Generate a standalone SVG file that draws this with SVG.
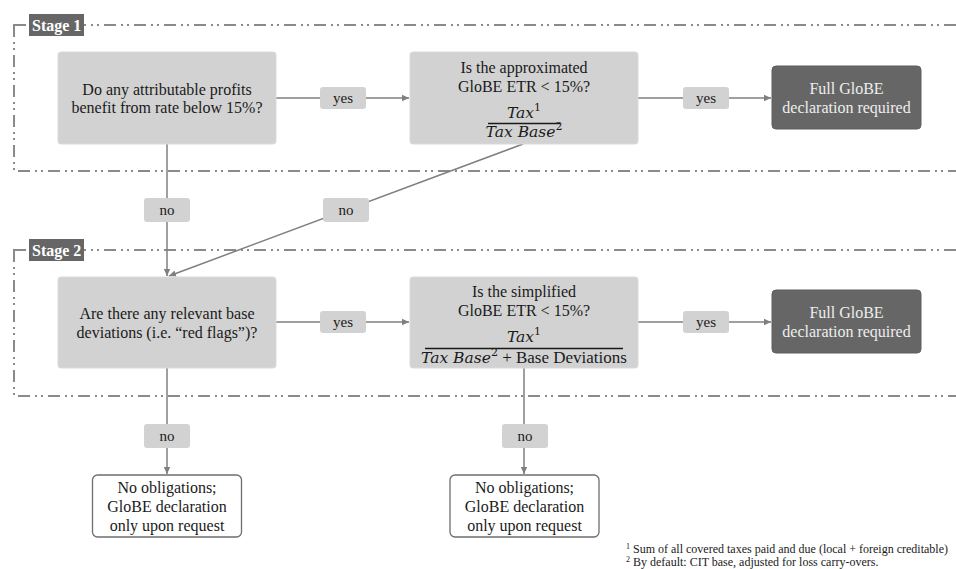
<svg xmlns="http://www.w3.org/2000/svg" width="956" height="569" viewBox="0 0 956 569">
<defs>
<style>
.stage{fill:none;stroke:#8a8a8a;stroke-width:2;stroke-dasharray:12 5 2 4 2 5}
.stlab{fill:#666}
.sttxt{font-family:"Liberation Serif",serif;font-weight:bold;font-size:16px;fill:#fff}
.q{fill:#d2d2d2;stroke:#dadada;stroke-width:1}
.dark{fill:#666;stroke:#5e5e5e;stroke-width:1}
.end{fill:#fff;stroke:#6e6e6e;stroke-width:1.3}
.t{font-family:"Liberation Serif",serif;font-size:16px;fill:#1a1a1a;text-anchor:middle}
.tw{font-family:"Liberation Serif",serif;font-size:16px;fill:#eeeeee;text-anchor:middle}
.m{font-family:"DejaVu Serif","Liberation Serif",serif;font-style:italic;font-size:15.5px;fill:#1a1a1a;text-anchor:middle}
.up{font-family:"Liberation Serif",serif;font-style:normal;font-size:17px}
.lab{fill:#d2d2d2}
.lt{font-family:"Liberation Serif",serif;font-size:15px;fill:#1a1a1a;text-anchor:middle}
.c{fill:none;stroke:#7f7f7f;stroke-width:1.5}
.fn{font-family:"Liberation Serif",serif;font-size:12px;fill:#1a1a1a}
</style>
<marker id="ah" markerWidth="8" markerHeight="8" refX="7" refY="4" orient="auto" markerUnits="userSpaceOnUse">
<path d="M0,0.8 L7,4 L0,7.2 Z" fill="#7f7f7f"/>
</marker>
</defs>
<rect width="956" height="569" fill="#fff"/>

<g id="stage1">
<rect class="stage" x="14" y="25" width="970" height="146"/>
<rect class="stlab" x="29" y="14" width="55" height="22"/>
<text class="sttxt" x="32" y="31">Stage 1</text>
</g>
<g id="stage2">
<rect class="stage" x="14" y="250" width="970" height="146"/>
<rect class="stlab" x="29" y="239" width="55" height="22"/>
<text class="sttxt" x="32" y="256">Stage 2</text>
</g>

<g id="connectors">
<path class="c" d="M276,98 H320"/>
<path class="c" d="M366,98 H409" marker-end="url(#ah)"/>
<path class="c" d="M638,98 H683"/>
<path class="c" d="M729,98 H771" marker-end="url(#ah)"/>
<path class="c" d="M276,322 H320"/>
<path class="c" d="M366,322 H409" marker-end="url(#ah)"/>
<path class="c" d="M638,322 H683"/>
<path class="c" d="M729,322 H771" marker-end="url(#ah)"/>
<path class="c" d="M167,144 V276" marker-end="url(#ah)"/>
<path class="c" d="M523,144 L169,276" marker-end="url(#ah)"/>
<path class="c" d="M167,368 V474" marker-end="url(#ah)"/>
<path class="c" d="M524,368 V474" marker-end="url(#ah)"/>
<g id="labels">
<rect class="lab" x="320" y="87" width="46" height="22" rx="3"/>
<text class="lt" x="343" y="103">yes</text>
<rect class="lab" x="683" y="87" width="46" height="22" rx="3"/>
<text class="lt" x="706" y="103">yes</text>
<rect class="lab" x="320" y="311" width="46" height="22" rx="3"/>
<text class="lt" x="343" y="327">yes</text>
<rect class="lab" x="683" y="311" width="46" height="22" rx="3"/>
<text class="lt" x="706" y="327">yes</text>
<rect class="lab" x="144" y="198" width="46" height="24" rx="3"/>
<text class="lt" x="167" y="215">no</text>
<rect class="lab" x="323" y="198" width="46" height="24" rx="3"/>
<text class="lt" x="346" y="215">no</text>
<rect class="lab" x="144" y="424" width="46" height="24" rx="3"/>
<text class="lt" x="167" y="441">no</text>
<rect class="lab" x="502" y="424" width="46" height="24" rx="3"/>
<text class="lt" x="525" y="441">no</text>
</g>
</g>

<g id="q1">
<rect class="q" x="58" y="52" width="218" height="92" rx="3"/>
<text class="t" x="167" y="94.5">Do any attributable  profits</text>
<text class="t" x="167" y="113">benefit from rate below 15%?</text>
</g>

<g id="q2">
<rect class="q" x="410" y="52" width="228" height="92" rx="3"/>
<text class="t" x="524" y="73">Is the approximated</text>
<text class="t" x="524" y="92">GloBE ETR &lt; 15%?</text>
<text class="m" x="524" y="118">Tax<tspan font-style="normal" font-size="11" dy="-7">1</tspan></text>
<line x1="488" y1="123.5" x2="560" y2="123.5" stroke="#1a1a1a" stroke-width="1.3"/>
<text class="m" x="524" y="137">Tax Base<tspan font-style="normal" font-size="11" dy="-7">2</tspan></text>
</g>

<g id="full1">
<rect class="dark" x="772" y="66" width="149" height="63" rx="4"/>
<text class="tw" x="846.5" y="94">Full GloBE</text>
<text class="tw" x="846.5" y="113">declaration  required</text>
</g>

<g id="q3">
<rect class="q" x="58" y="277" width="218" height="91" rx="3"/>
<text class="t" x="167" y="318.5">Are there any relevant base</text>
<text class="t" x="167" y="337.5">deviations (i.e. “red flags”)?</text>
</g>

<g id="q4">
<rect class="q" x="410" y="277" width="228" height="91" rx="3"/>
<text class="t" x="524" y="297">Is the simplified</text>
<text class="t" x="524" y="316">GloBE ETR &lt; 15%?</text>
<text class="m" x="524" y="342">Tax<tspan font-style="normal" font-size="11" dy="-7">1</tspan></text>
<line x1="425" y1="348.5" x2="623" y2="348.5" stroke="#1a1a1a" stroke-width="1.3"/>
<text class="m" x="524" y="363">Tax Base<tspan font-style="normal" font-size="11" dy="-7">2</tspan><tspan class="up" dy="7"> + Base Deviations</tspan></text>
</g>

<g id="full2">
<rect class="dark" x="772" y="290" width="149" height="63" rx="4"/>
<text class="tw" x="846.5" y="318">Full GloBE</text>
<text class="tw" x="846.5" y="337">declaration  required</text>
</g>

<g id="none1">
<rect class="end" x="92.5" y="475" width="149" height="62" rx="5"/>
<text class="t" x="167" y="492.5">No obligations;</text>
<text class="t" x="167" y="511.5">GloBE declaration</text>
<text class="t" x="167" y="530.5">only upon request</text>
</g>

<g id="none2">
<rect class="end" x="450" y="475" width="149" height="62" rx="5"/>
<text class="t" x="524.5" y="492.5">No obligations;</text>
<text class="t" x="524.5" y="511.5">GloBE declaration</text>
<text class="t" x="524.5" y="530.5">only upon request</text>
</g>

<g id="footnotes">
<text class="fn" x="626" y="553"><tspan font-size="8" dy="-4">1</tspan><tspan dy="4"> Sum of all covered taxes paid and due (local + foreign creditable)</tspan></text>
<text class="fn" x="626" y="565.5"><tspan font-size="8" dy="-4">2</tspan><tspan dy="4"> By default: CIT base, adjusted for loss carry-overs.</tspan></text>
</g>
</svg>
